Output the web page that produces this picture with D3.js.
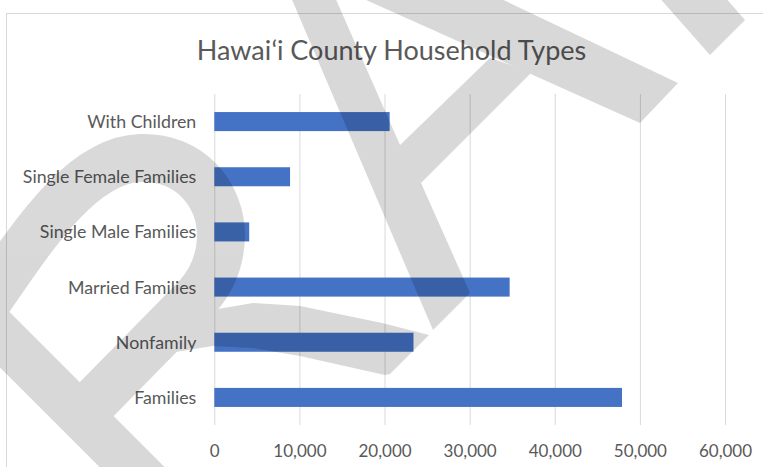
<!DOCTYPE html>
<html>
<head>
<meta charset="utf-8">
<script src="https://cdn.jsdelivr.net/npm/d3@7"></script>
<style>
  body { margin: 0; background: #fff; }
  svg { display: block; font-family: Lato, "Open Sans", sans-serif; }
</style>
</head>
<body>
<script>
var width = 763, height = 467;

// household types, top to bottom as drawn
var categories = ["With Children", "Single Female Families", "Single Male Families",
                  "Married Families", "Nonfamily", "Families"];
var households = [20600, 8900, 4100, 34700, 23400, 47900];
var xTicks = [0, 10000, 20000, 30000, 40000, 50000, 60000];
var title = "Hawai\u02BBi County Household Types";

var svg = d3.select("body").append("svg")
    .attr("width", width)
    .attr("height", height);

svg.append("rect")
    .attr("width", width).attr("height", height)
    .attr("fill", "#fff");

// chart frame (runs off the right and bottom edges)
svg.append("rect")
    .attr("x", 6.5).attr("y", 13.5)
    .attr("width", 800).attr("height", 500)
    .attr("fill", "none")
    .attr("stroke", "#d9d9d9");

var plotTop = 94, plotBottom = 425;

var x = d3.scaleLinear()
    .domain([0, 60000])
    .range([214.3, 725]);

var y = d3.scaleBand()
    .domain(categories)
    .range([plotTop, plotBottom])
    .paddingInner(0.655)
    .paddingOuter(0.3275);

svg.append("text")
    .attr("x", 391.5)
    .attr("y", 59.5)
    .attr("text-anchor", "middle")
    .attr("font-size", "27px")
    .attr("fill", "#595959")
    .text(title);

// gridlines + value labels
var xAxis = svg.append("g")
    .attr("transform", "translate(0," + plotBottom + ")")
    .call(d3.axisBottom(x)
        .tickValues(xTicks)
        .tickFormat(d3.format(","))
        .tickSize(-(plotBottom - plotTop)));
xAxis.select(".domain").remove();
xAxis.selectAll(".tick line").attr("stroke", "#d9d9d9");
xAxis.selectAll(".tick text")
    .attr("y", 32).attr("dy", 0)
    .attr("font-size", "17px")
    .attr("font-family", "Lato, sans-serif")
    .attr("fill", "#595959");

// category labels
var yAxis = svg.append("g")
    .attr("transform", "translate(214.3,0)")
    .call(d3.axisLeft(y).tickSize(0).tickPadding(18));
yAxis.select(".domain").remove();
yAxis.selectAll(".tick text")
    .attr("dy", "0.36em")
    .attr("font-size", "17.8px")
    .attr("font-family", "Lato, sans-serif")
    .attr("fill", "#595959");

svg.selectAll(".bar")
    .data(households)
    .enter().append("rect")
    .attr("class", "bar")
    .attr("x", x(0))
    .attr("y", function(d, i){ return y(categories[i]); })
    .attr("width", function(d){ return x(d) - x(0); })
    .attr("height", y.bandwidth())
    .attr("fill", "#4472C4");

// grey watermark lying over the whole picture
var wm = svg.append("g").attr("opacity", 0.15);

wm.append("path")   // bowl of the left letter
    .attr("d", "M-15,305 C30,240 80,160 140,158 C190,156 222,195 221,238 C220,262 212,280 198,296 L88,408")
    .attr("fill", "none").attr("stroke", "#000").attr("stroke-width", 48);
wm.append("path")   // its leg
    .attr("d", "M-25,310 L175,510")
    .attr("fill", "none").attr("stroke", "#000").attr("stroke-width", 46);

var wmShapes = [
    [[200,312],[253,303],[300,306],[382,323],[429,335],[390,374],[385,375],[300,356],[253,348],[213,346],[175,352]],
    [[290,-5],[334,-5],[400,145],[421,183],[470,293],[433,330]],
    [[398,147],[490,58],[532,72],[421,183]],
    [[355,-5],[493,-5],[678,83],[640,123]],
    [[657,-5],[723,-5],[745,20],[710,55]]
];
wm.selectAll("polygon")
    .data(wmShapes)
    .enter().append("polygon")
    .attr("points", function(d){ return d.join(" "); })
    .attr("fill", "#000");
</script>
</body>
</html>
